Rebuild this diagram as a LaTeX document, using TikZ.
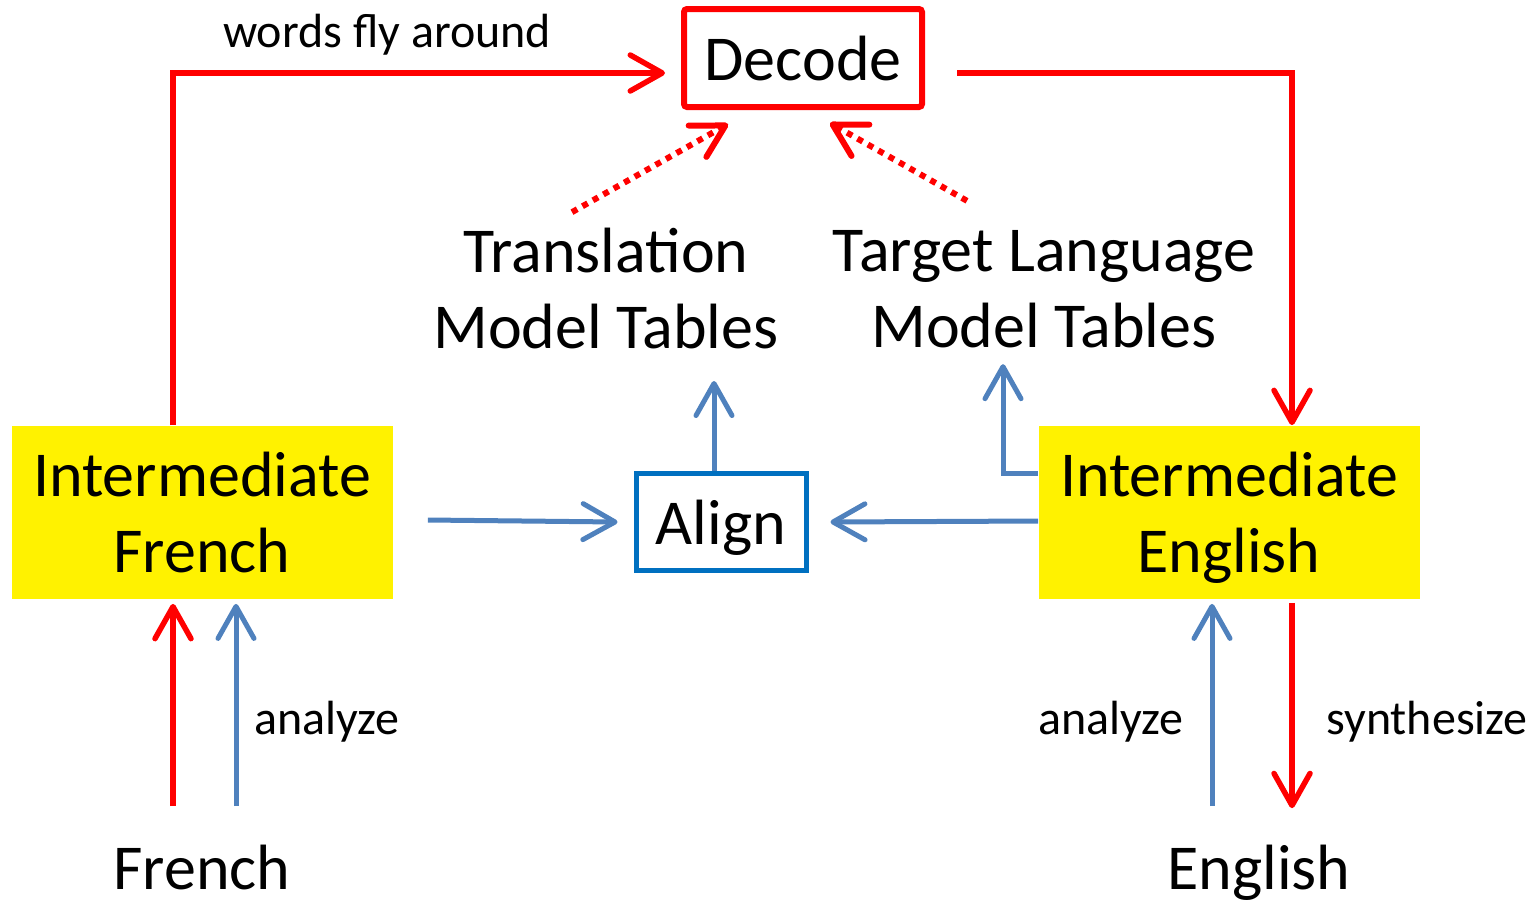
\documentclass[tikz,border=0pt]{standalone}
\usepackage{fontspec}
\setmainfont{Carlito}
\usetikzlibrary{arrows.meta}
\definecolor{arrowblue}{HTML}{4F81BD}
\definecolor{alignblue}{HTML}{0070C0}
\tikzset{
  barb/.tip={Straight Barb[length=16pt,width=18pt,round]},
  bigtext/.style={font=\fontsize{32}{38}\selectfont, align=center, inner sep=0pt},
  smalltext/.style={font=\fontsize{24}{28}\selectfont, inner sep=0pt},
  yellowbox/.style={bigtext, fill=yellow, text depth=0pt, minimum width=190.5pt, minimum height=86.5pt},
  decodebox/.style={bigtext, draw=red, line width=3pt, rounded corners=1.5pt, minimum width=119pt, minimum height=49pt},
  alignbox/.style={bigtext, draw=alignblue, line width=2.5pt, text depth=0pt, minimum width=85pt, minimum height=48.5pt},
  redarr/.style={draw=red, line width=2.75pt, -barb},
  bluearr/.style={draw=arrowblue, line width=2.5pt, -barb},
  reddots/.style={redarr, line width=3pt, dash pattern=on 3pt off 3pt},
}
\begin{document}
\begin{tikzpicture}[x=0.5pt,y=-0.5pt]
 \useasboundingbox (0,0) rectangle (1540,905);
 % boxes and texts
 \node[decodebox] (decode) at (803,58) {Decode};
 \node[bigtext] (trans) at (606,289) {Translation\\Model Tables};
 \node[bigtext] (target) at (1044,289) {Target Language\\Model Tables};
 \node[yellowbox] (ifr) at (202,512) {Intermediate\\French};
 \node[yellowbox] (ien) at (1229,512) {Intermediate\\English};
 \node[alignbox] (align) at (721,522) {Align};
 \node[bigtext,anchor=base] (fr) at (202,889) {French};
 \node[bigtext,anchor=base] (en) at (1259,889) {English};
 \node[smalltext] (fly) at (387,35) {words fly around};
 \node[smalltext] (anl) at (327,722) {analyze};
 \node[smalltext] (anr) at (1111,722) {analyze};
 \node[smalltext] (syn) at (1427,722) {synthesize};
 % decoding path
 \draw[redarr] ([xshift=-14.5pt]ifr.north) |- ([xshift=-8pt,yshift=-7.5pt]decode.west);
 \draw[redarr] ([xshift=16pt,yshift=-7.5pt]decode.east) -| ([xshift=31.5pt]ien.north);
 \draw[reddots] ([xshift=-17pt,yshift=8pt]trans.north) -- ([xshift=-37.5pt,yshift=-7pt]decode.south);
 \draw[reddots] ([xshift=-38.5pt,yshift=14.5pt]target.north) -- ([xshift=13.5pt,yshift=-6.5pt]decode.south);
 % training path
 \draw[bluearr] ([xshift=-3.5pt]align.north) -- ++(0,-90);
 \draw[bluearr] ([yshift=19.5pt]ien.west) -| ([xshift=-20.5pt,yshift=-8pt]target.south);
 \draw[bluearr] ([xshift=17.5pt,yshift=-4pt]ifr.east) -- ([xshift=-8pt]align.west);
 \draw[bluearr] ([yshift=-4.5pt]ien.west) -- ([xshift=11pt]align.east);
 % analyze / synthesize
 \draw[redarr] ([xshift=-14.5pt,yshift=19pt]fr.north) -- ([xshift=-14.5pt,yshift=-2.5pt]ifr.south);
 \draw[bluearr] ([xshift=17pt,yshift=19pt]fr.north) -- ([xshift=17pt,yshift=-2.5pt]ifr.south);
 \draw[bluearr] ([xshift=-23.5pt,yshift=19pt]en.north) -- ([xshift=-8.5pt,yshift=-2.5pt]ien.south);
 \draw[redarr] ([xshift=31.5pt,yshift=-2pt]ien.south) -- ([xshift=16.5pt,yshift=18pt]en.north);
\end{tikzpicture}
\end{document}
